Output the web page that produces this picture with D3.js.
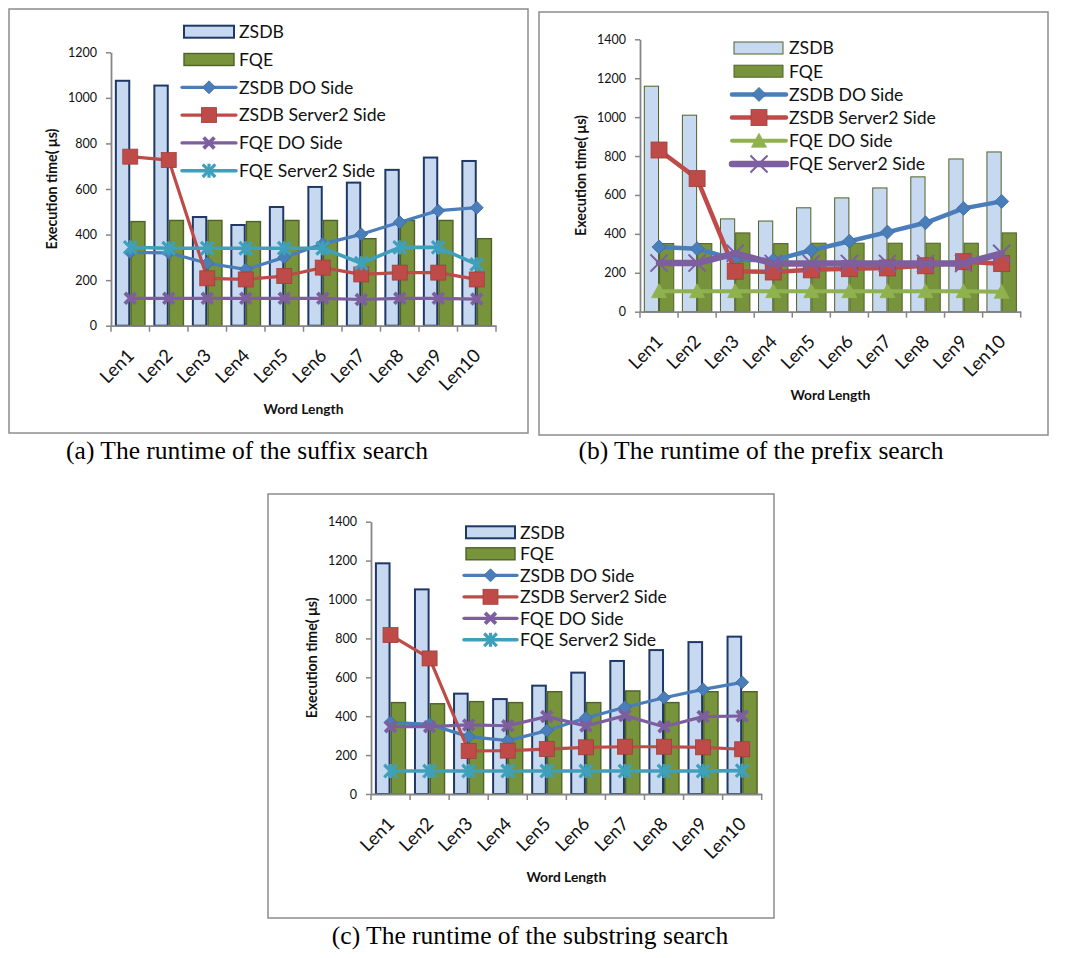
<!DOCTYPE html>
<html><head><meta charset="utf-8">
<script src="https://cdn.jsdelivr.net/npm/d3@7"></script>
<style>body{margin:0;background:#fff}svg{display:block}</style>
</head><body>
<svg id="fig" width="1073" height="958"></svg>
<script>
// ---------------- DATA ----------------
const categories = ["Len1","Len2","Len3","Len4","Len5","Len6","Len7","Len8","Len9","Len10"];
const seriesNames = ["ZSDB","FQE","ZSDB DO Side","ZSDB Server2 Side","FQE DO Side","FQE Server2 Side"];
const yTicksSuffix = [0,200,400,600,800,1000,1200];
const yTicksPrefix = [0,200,400,600,800,1000,1200,1400];
const yTicksSubstring = [0,200,400,600,800,1000,1200,1400];
const captions = ["(a) The runtime of the suffix search","(b) The runtime of the prefix search","(c) The runtime of the substring search"];
const xTitle = "Word Length";
const yTitle = "Execution time( μs)";

// (a) suffix search
const suffixZSDB      = [1075,1054,477,442,521,609,628,684,738,723];
const suffixFQE       = [457,462,462,457,462,462,382,462,462,382];
const suffixZsdbDO    = [322,320,274,247,300,359,401,454,505,518];
const suffixZsdbS2    = [742,727,208,203,218,255,225,233,233,203];
const suffixFqeDO     = [120,120,120,120,120,120,115,120,120,117];
const suffixFqeS2     = [344,340,340,340,340,340,274,344,344,269];
// (b) prefix search
const prefixZSDB      = [1159,1010,477,466,534,585,636,693,785,821];
const prefixFQE       = [350,350,405,350,352,352,352,352,352,405];
const prefixZsdbDO    = [333,324,268,264,316,362,409,457,531,567];
const prefixZsdbS2    = [831,684,208,204,215,221,225,236,257,247];
const prefixFqeDO     = [105,105,105,105,105,105,105,105,105,102];
const prefixFqeS2     = [250,250,300,248,248,248,248,248,248,300];
// (c) substring search
const substringZSDB   = [1186,1052,516,488,557,624,684,740,781,809];
const substringFQE    = [470,464,475,470,526,470,530,470,526,526];
const substringZsdbDO = [368,358,295,274,326,391,446,495,538,574];
const substringZsdbS2 = [817,697,221,223,231,240,243,243,240,230];
const substringFqeDO  = [346,346,355,351,398,350,403,346,398,401];
const substringFqeS2  = [118,118,118,118,118,118,118,118,118,120];

// ---------------- STYLE / LAYOUT ----------------
const C = {zsdbFill:"#c6d9f1", fqeFill:"#77933c", fqeEdge:"#4f6228", navy:"#1f3864",
  blue:"#4a7ebb", red:"#be4b48", purple:"#7d5fa0", teal:"#3fa0bb", green:"#8fb24f", axis:"#868686"};

const panels = [
 {box:[9,9,528,433], x0:111, x1:496, yZero:325.7, yTopPx:52.3, yMax:1200, ticks:yTicksSuffix,
  bars:[suffixZSDB, suffixFQE], zsdbEdge:C.navy, zsdbSW:2, fqeSW:1.4,
  lines:[
   {v:suffixZsdbDO, color:C.blue, lw:3.2, m:"diamond", ms:13},
   {v:suffixZsdbS2, color:C.red, lw:3.2, m:"square", ms:15},
   {v:suffixFqeDO, color:C.purple, lw:3.2, m:"x", ms:12, mw:3.8},
   {v:suffixFqeS2, color:C.teal, lw:3.6, m:"star", ms:14, mw:3.2}],
  legend:{rx:184, rw:50, lx0:182, lx1:236, tx:239, y0:31.7, dy:27.8, rh:12},
  caption:{x:247, y:459}},
 {box:[539,12,1048,435], x0:640, x1:1020.7, yZero:311.7, yTopPx:39.3, yMax:1400, ticks:yTicksPrefix,
  bars:[prefixZSDB, prefixFQE], zsdbEdge:C.fqeEdge, zsdbSW:1, fqeSW:1,
  lines:[
   {v:prefixZsdbDO, color:C.blue, lw:4.5, m:"diamond", ms:14},
   {v:prefixZsdbS2, color:C.red, lw:4.5, m:"square", ms:16},
   {v:prefixFqeDO, color:C.green, lw:4, m:"triangle", ms:15},
   {v:prefixFqeS2, color:C.purple, lw:6.5, m:"x", ms:19, mw:2}],
  legend:{rx:734, rw:49, lx0:732, lx1:786, tx:789, y0:48, dy:23.2, rh:12},
  caption:{x:761, y:459}},
 {box:[268,494,774,918], x0:371, x1:761.7, yZero:794, yTopPx:521.7, yMax:1400, ticks:yTicksSubstring,
  bars:[substringZSDB, substringFQE], zsdbEdge:C.navy, zsdbSW:2, fqeSW:1.4,
  lines:[
   {v:substringZsdbDO, color:C.blue, lw:3.2, m:"diamond", ms:13},
   {v:substringZsdbS2, color:C.red, lw:3.2, m:"square", ms:15},
   {v:substringFqeDO, color:C.purple, lw:3.2, m:"x", ms:12, mw:3.8},
   {v:substringFqeS2, color:C.teal, lw:3.6, m:"star", ms:14, mw:3.2}],
  legend:{rx:466, rw:49, lx0:464, lx1:517, tx:520, y0:532.3, dy:21.5, rh:12},
  caption:{x:530, y:944}}
];

const svg = d3.select("#fig");
svg.append("rect").attr("width",1073).attr("height",958).attr("fill","#fff");

const SANS = "Lato, 'Open Sans', sans-serif";
const SERIF = "'Liberation Serif', 'Times New Roman', serif";
function fit(family, weight, str, target){
  const t = svg.append("text").attr("font-family",family).attr("font-weight",weight)
    .attr("font-size",100).text(str);
  const w = t.node().getComputedTextLength(); t.remove();
  return 100*target/w;
}
const fsLegend = fit(SANS,400,"ZSDB Server2 Side",147);
const fsTick   = fit(SANS,400,"1200",29);
const fsXLab   = fit(SANS,400,"Len10",50);
const fsXTitle = fit(SANS,700,xTitle,80);
const fsYTitle = fit(SANS,700,yTitle,121);
const fsCap    = fit(SERIF,400,captions[0],362);

function darker(c){ return d3.color(c).darker(0.5).formatHex(); }

function marker(g, type, x, y, s, color, mw){
  const h = s/2;
  if(type==="diamond"){
    g.append("path").attr("d",`M${x},${y-h}L${x+h},${y}L${x},${y+h}L${x-h},${y}Z`)
      .attr("fill",color).attr("stroke",darker(color)).attr("stroke-width",0.8);
  } else if(type==="square"){
    g.append("rect").attr("x",x-h).attr("y",y-h).attr("width",s).attr("height",s)
      .attr("fill",color).attr("stroke",darker(color)).attr("stroke-width",0.8);
  } else if(type==="triangle"){
    g.append("path").attr("d",`M${x},${y-h}L${x+h},${y+h*0.85}L${x-h},${y+h*0.85}Z`)
      .attr("fill",color).attr("stroke",color).attr("stroke-width",0.8);
  } else if(type==="x" || type==="star"){
    const k = h*0.9;
    g.append("path").attr("d",`M${x-k},${y-k}L${x+k},${y+k}M${x-k},${y+k}L${x+k},${y-k}`)
      .attr("stroke",color).attr("stroke-width",mw).attr("fill","none");
    if(type==="star"){
      g.append("path").attr("d",`M${x},${y-h}L${x},${y+h}`)
        .attr("stroke",color).attr("stroke-width",mw).attr("fill","none");
    }
  }
}

panels.forEach((p,pi)=>{
  const g = svg.append("g");
  // panel border
  g.append("rect").attr("x",p.box[0]).attr("y",p.box[1])
    .attr("width",p.box[2]-p.box[0]).attr("height",p.box[3]-p.box[1])
    .attr("fill","none").attr("stroke","#8c8c8c").attr("stroke-width",1.5);

  const x = d3.scaleBand().domain(categories).range([p.x0,p.x1]).padding(0);
  const xi = d3.scaleBand().domain(["ZSDB","FQE"]).range([0,x.bandwidth()]).paddingInner(0).paddingOuter(0.25);
  const y = d3.scaleLinear().domain([0,p.yMax]).range([p.yZero,p.yTopPx]);

  // bars
  const barStyles = [
    {fill:C.zsdbFill, stroke:p.zsdbEdge, sw:p.zsdbSW},
    {fill:C.fqeFill, stroke:C.fqeEdge, sw:p.fqeSW}];
  ["ZSDB","FQE"].forEach((s,si)=>{
    g.append("g").selectAll("rect").data(p.bars[si]).join("rect")
      .attr("x",(d,i)=>x(categories[i])+xi(s)+ barStyles[si].sw/2)
      .attr("width",xi.bandwidth()-barStyles[si].sw)
      .attr("y",d=>y(d))
      .attr("height",d=>y(0)-y(d))
      .attr("fill",barStyles[si].fill).attr("stroke",barStyles[si].stroke)
      .attr("stroke-width",barStyles[si].sw);
  });

  // y axis
  const ya = g.append("g").attr("transform",`translate(${p.x0},0)`)
    .call(d3.axisLeft(y).tickValues(p.ticks).tickFormat(d3.format("d")).tickSize(5).tickSizeOuter(0).tickPadding(9));
  ya.select(".domain").attr("stroke",C.axis).attr("stroke-width",1.8);
  ya.selectAll(".tick line").attr("stroke",C.axis).attr("stroke-width",1.5);
  ya.selectAll(".tick text").attr("font-family",SANS).attr("font-size",fsTick).attr("fill","#111");

  // x axis
  const xa = g.append("g").attr("transform",`translate(0,${p.yZero})`)
    .call(d3.axisBottom(x).tickSize(0).tickSizeOuter(0).tickFormat(""));
  xa.select(".domain").attr("stroke",C.axis).attr("stroke-width",1.8);
  xa.selectAll(".tick").remove();
  const bounds = categories.map(c=>x(c)).concat([p.x1]);
  g.append("g").selectAll("line").data(bounds).join("line")
    .attr("x1",d=>d).attr("x2",d=>d).attr("y1",p.yZero).attr("y2",p.yZero+6)
    .attr("stroke",C.axis).attr("stroke-width",1.5);
  g.append("g").selectAll("text").data(categories).join("text")
    .attr("transform",d=>`translate(${x(d)+x.bandwidth()/2+5},${p.yZero+31}) rotate(-45)`)
    .attr("text-anchor","end").attr("font-family",SANS).attr("font-size",fsXLab).attr("fill","#111")
    .text(d=>d);

  // axis titles
  g.append("text").attr("x",(p.x0+p.x1)/2).attr("y",p.yZero+83).attr("dy","0.35em")
    .attr("text-anchor","middle").attr("font-family",SANS).attr("font-weight",700)
    .attr("font-size",fsXTitle).attr("fill","#111").text(xTitle);
  g.append("text").attr("transform",`translate(${p.x0-59},${(p.yZero+p.yTopPx)/2}) rotate(-90)`)
    .attr("dy","0.35em").attr("text-anchor","middle").attr("font-family",SANS).attr("font-weight",700)
    .attr("font-size",fsYTitle).attr("fill","#111").text(yTitle);

  // lines + markers
  const cx = i => x(categories[i]) + x.bandwidth()/2;
  p.lines.forEach(L=>{
    const lg = g.append("g");
    lg.append("path").datum(L.v)
      .attr("d", d3.line().x((d,i)=>cx(i)).y(d=>y(d)))
      .attr("fill","none").attr("stroke",L.color).attr("stroke-width",L.lw)
      .attr("stroke-linejoin","round").attr("stroke-linecap","round");
    L.v.forEach((d,i)=>marker(lg, L.m, cx(i), y(d), L.ms, L.color, L.mw));
  });

  // legend
  const lgd = p.legend;
  seriesNames.forEach((name,k)=>{
    const yy = lgd.y0 + k*lgd.dy;
    if(k<2){
      const st = barStyles[k];
      g.append("rect").attr("x",lgd.rx).attr("y",yy-lgd.rh/2).attr("width",lgd.rw).attr("height",lgd.rh)
        .attr("fill",st.fill).attr("stroke",st.stroke).attr("stroke-width",st.sw);
    } else {
      const L = p.lines[k-2];
      g.append("line").attr("x1",lgd.lx0).attr("x2",lgd.lx1).attr("y1",yy).attr("y2",yy)
        .attr("stroke",L.color).attr("stroke-width",L.lw).attr("stroke-linecap","round");
      marker(g, L.m, (lgd.lx0+lgd.lx1)/2, yy, L.ms, L.color, L.mw);
    }
    g.append("text").attr("x",lgd.tx).attr("y",yy).attr("dy","0.36em")
      .attr("font-family",SANS).attr("font-size",fsLegend).attr("fill","#111").text(name);
  });

  // caption
  svg.append("text").attr("x",p.caption.x).attr("y",p.caption.y).attr("text-anchor","middle")
    .attr("font-family",SERIF).attr("font-size",fsCap).attr("fill","#000").text(captions[pi]);
});
</script>
</body></html>
